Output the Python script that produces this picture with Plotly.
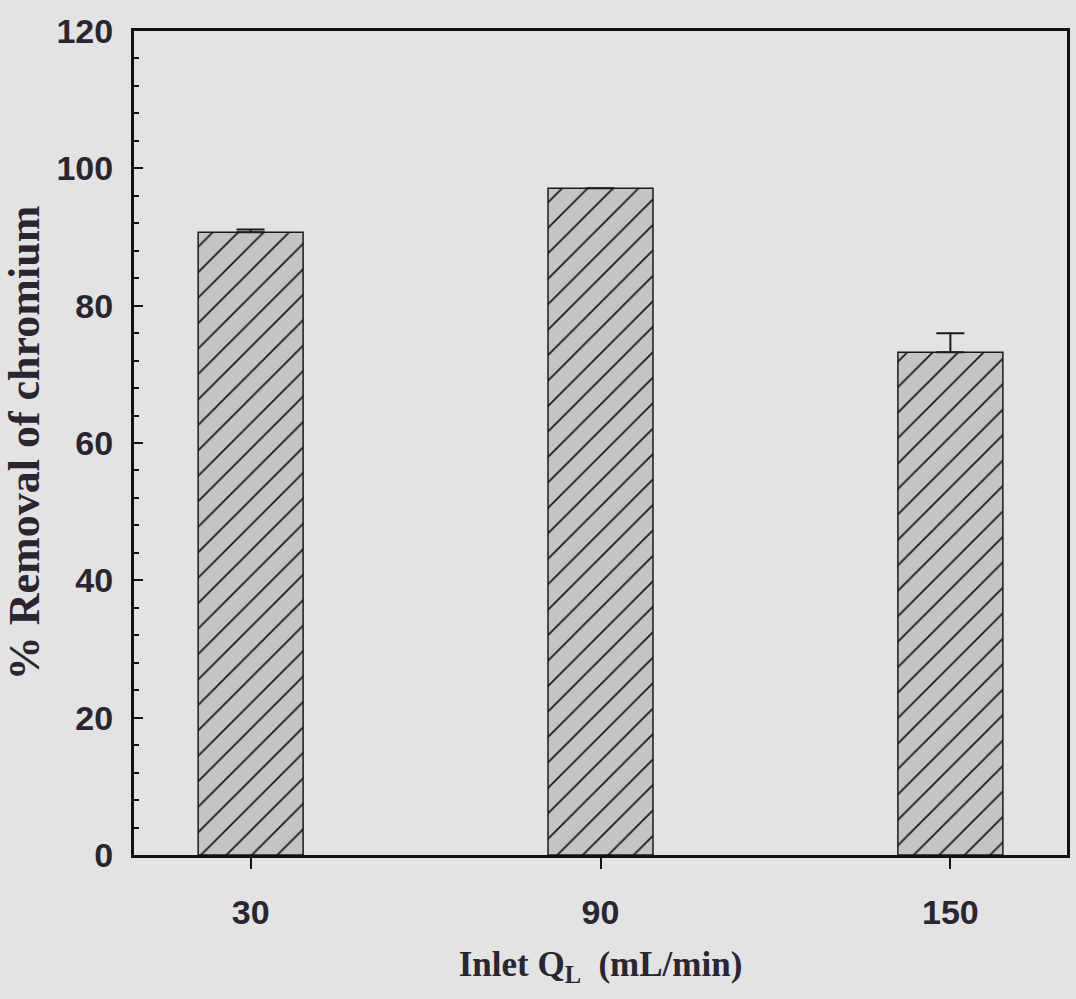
import plotly.graph_objects as go

flow_rates = [30, 90, 150]          # Inlet Q_L (mL/min)
removal = [90.7, 97.1, 73.2]        # % removal of chromium
removal_err = [0.4, 0.0, 2.8]       # error bar (upper)
y_ticks = [0, 20, 40, 60, 80, 100, 120]
x_ticks = [30, 90, 150]

bg = "#e3e3e3"
ink = "#2a2530"

fig = go.Figure()
fig.add_trace(go.Bar(
    x=flow_rates,
    y=removal,
    width=18,
    marker=dict(
        color="#c4c4c4",
        line=dict(color="#1a1a1a", width=1.5),
        pattern=dict(shape="/", fgcolor="#1a1a1a", bgcolor="#c4c4c4",
                     size=18, solidity=0.1, fillmode="replace"),
    ),
    error_y=dict(type="data", symmetric=False, array=removal_err,
                 arrayminus=[0, 0, 0], color="#1a1a1a", thickness=2, width=14),
    showlegend=False,
))

fig.update_layout(
    width=1076, height=999,
    margin=dict(l=134, r=6, t=31, b=144),
    paper_bgcolor=bg, plot_bgcolor=bg,
    font=dict(family="Liberation Sans, Arial, sans-serif", color=ink),
)

fig.update_xaxes(
    range=[10, 170], tickvals=x_ticks, ticktext=[str(v) for v in x_ticks],
    showline=True, linecolor="#111", linewidth=3, mirror=True,
    ticks="outside", ticklen=11, tickwidth=2, tickcolor="#111",
    showgrid=False, zeroline=False,
    tickfont=dict(family="Liberation Sans, Arial", size=34, color=ink, weight="bold"),
    ticklabelstandoff=14,
    title=dict(text="Inlet Q<sub>L</sub>  (mL/min)",
               font=dict(family="Liberation Serif, Times New Roman, serif", size=35,
                         color=ink, weight="bold"),
               standoff=22),
)
fig.update_yaxes(
    range=[0, 120], tickvals=y_ticks,
    showline=True, linecolor="#111", linewidth=3, mirror=True,
    ticks="inside", ticklen=9, tickwidth=2, tickcolor="#111",
    minor=dict(dtick=4, ticks="inside", ticklen=5, tickwidth=1.5, tickcolor="#111"),
    showgrid=False, zeroline=False,
    tickfont=dict(family="Liberation Sans, Arial", size=34, color=ink, weight="bold"),
    ticklabelstandoff=11,
    title=dict(text="% Removal of chromium",
               font=dict(family="Liberation Serif, Times New Roman, serif", size=44,
                         color=ink, weight="bold"),
               standoff=4),
)

fig.write_html("out.html")
